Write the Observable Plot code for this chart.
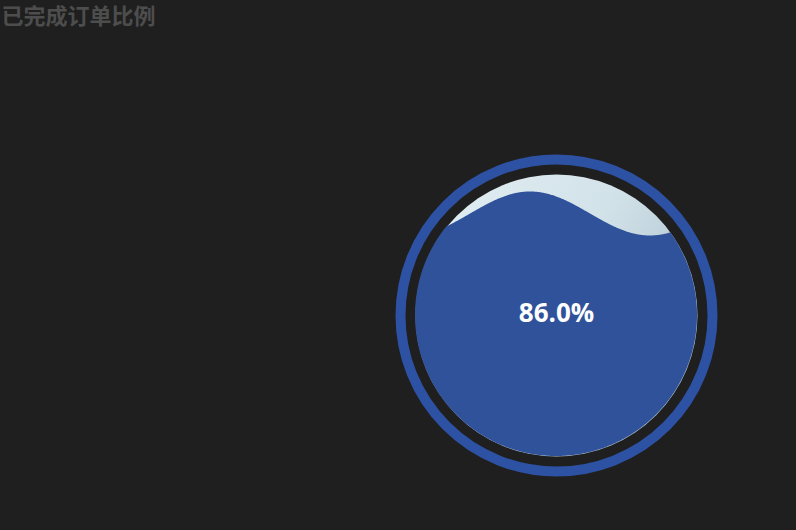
<!DOCTYPE html>
<html>
<head>
<meta charset="utf-8">
<script src="https://cdn.jsdelivr.net/npm/d3@7"></script>
<script src="https://cdn.jsdelivr.net/npm/@observablehq/plot@0.6"></script>
<style>
  html, body { margin: 0; padding: 0; background: #1f1f1f; }
  #chart svg { display: block; }
</style>
</head>
<body>
<div id="chart"></div>
<script>
// ---- data ----
const chartTitle = "已完成订单比例";
const values = [0.86];                 // completed-order ratio
const valueLabels = ["86.0%"];
// wave shape (in units of the inner radius)
const waveAmplitude = [0.156];
const waveLength = [1.70];
const waveCrest = [-0.184];

// ---- layout ----
const W = 796, H = 530;
const CX = 556, CY = 315, PX = 141;    // gauge centre and pixels per unit radius
const xDomain = [-CX / PX, (W - CX) / PX];
const yDomain = [-(H - CY) / PX, CY / PX];

const v = values[0];
const level = -1 + 2 * v;
const wave = x => level + waveAmplitude[0] * Math.cos(2 * Math.PI * (x - waveCrest[0]) / waveLength[0]);

const N = 600;
const fillPts = d3.range(N + 1).map(i => {
  const x = -Math.cos(Math.PI * i / N);
  const c = Math.sqrt(Math.max(0, 1 - x * x));
  return {x, y1: -c, y2: Math.max(-c, Math.min(c, wave(x)))};
});

const centre = [{x: 0, y: 0, label: valueLabels[0]}];

const defs = () => {
  const d = d3.create("svg:defs");
  const g = d.append("linearGradient").attr("id", "bgGrad")
    .attr("x1", "0").attr("y1", "0").attr("x2", "1").attr("y2", "0.6");
  g.append("stop").attr("offset", "0%").attr("stop-color", "#e4f0f4");
  g.append("stop").attr("offset", "55%").attr("stop-color", "#d2e2e9");
  g.append("stop").attr("offset", "100%").attr("stop-color", "#a9bfcb");
  return d.node();
};

const plot = Plot.plot({
  width: W, height: H,
  margin: 0,
  style: {background: "#1f1f1f", overflow: "visible"},
  x: {domain: xDomain, range: [0, W], axis: null},
  y: {domain: yDomain, range: [H, 0], axis: null},
  marks: [
    defs,
    Plot.dot(centre, {x: "x", y: "y", r: 1.0 * PX, fill: "url(#bgGrad)"}),
    Plot.areaY(fillPts, {x: "x", y1: "y1", y2: "y2", fill: "#2f529b", curve: "linear"}),
    Plot.dot(centre, {x: "x", y: "y", r: 156, fill: "none", stroke: "#2d51a3", strokeWidth: 10}),
    Plot.text(centre, {x: "x", y: "y", text: "label", fill: "#ffffff", fontSize: 26, fontWeight: "bold",
      fontFamily: "'Open Sans', 'Noto Sans', sans-serif", dy: -2}),
    Plot.text([chartTitle], {frameAnchor: "top-left", text: d => d, fill: "#4d4d4d", fontSize: 22,
      fontWeight: "bold", fontFamily: "'Noto Sans CJK SC', sans-serif", dx: 1, dy: 8, textAnchor: "start"})
  ]
});
document.getElementById("chart").append(plot);
</script>
</body>
</html>
